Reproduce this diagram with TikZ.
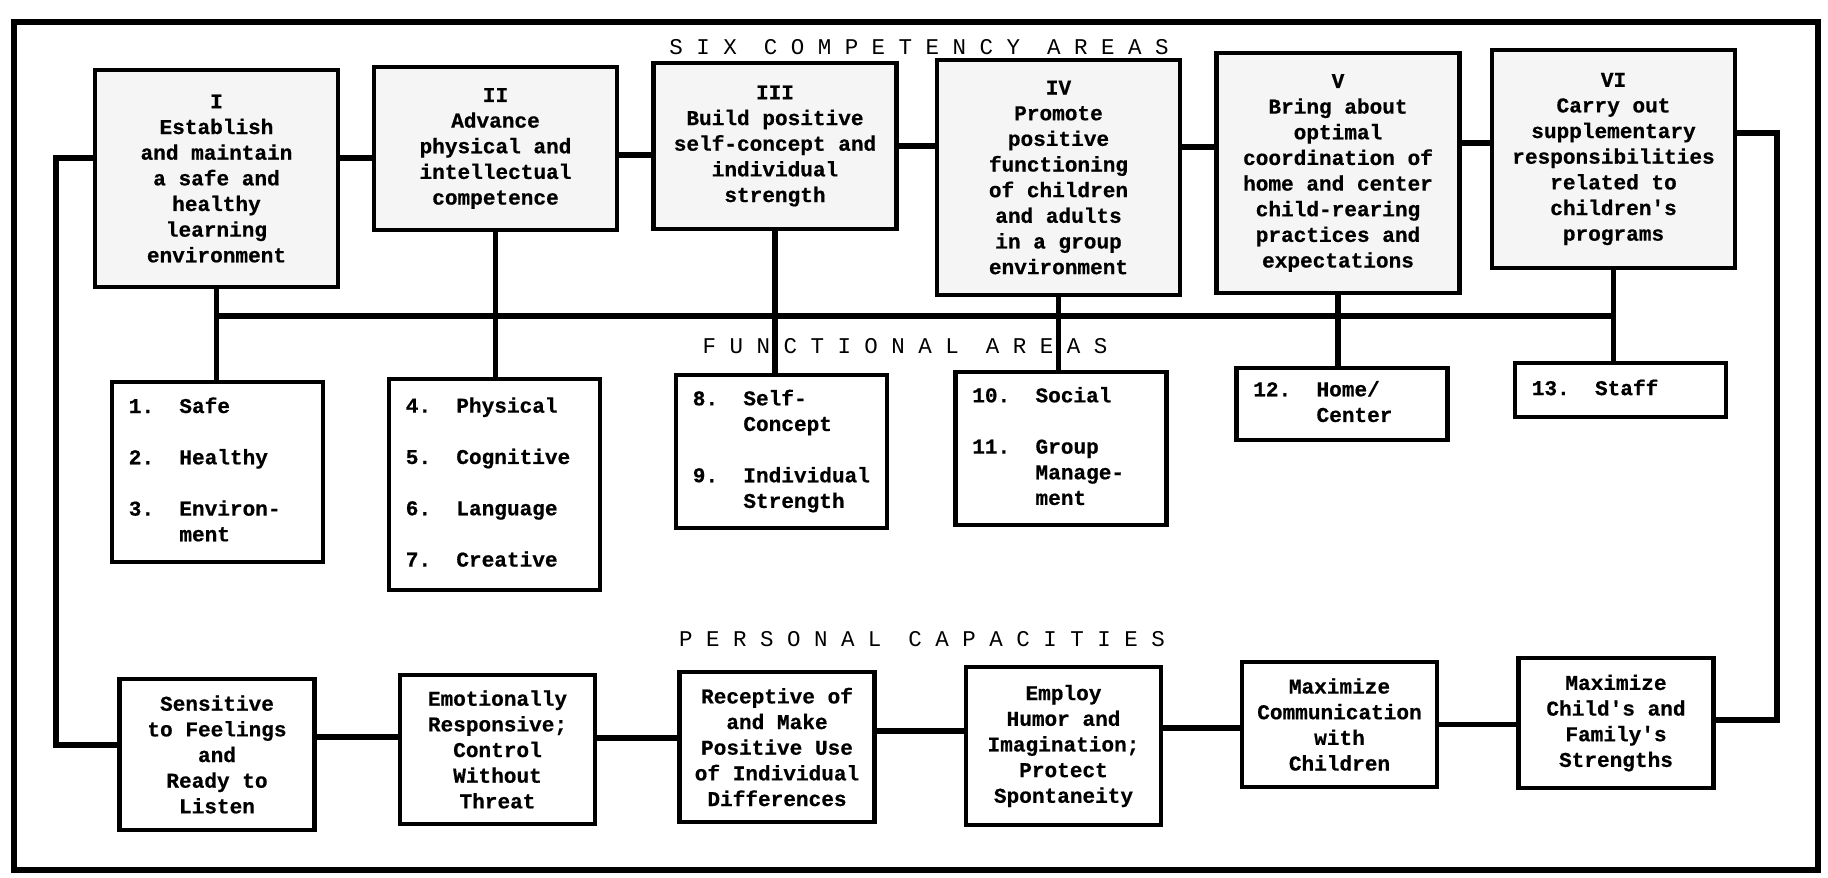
\documentclass[tikz,border=0pt]{standalone}
\usepackage{fontspec}
\setmonofont{Liberation Mono}
\newfontfamily\boxfont{Liberation Mono}[BoldFeatures={FakeBold=0.6}]
\usepackage{tikz}

\newcommand{\items}[1]{\begin{tabular}{@{}l@{\hspace{14.4pt}}l@{}}#1\end{tabular}}
\newcommand{\skipline}{\\[14.6pt]}

\begin{document}
\begin{tikzpicture}[
            x=0.02cm, y=-0.02cm,
            box/.style={draw, line width=2.4pt, inner sep=0pt,
                font=\boxfont\bfseries\fontsize{12}{14.6}\selectfont},
            area node/.style={box, align=center, fill=black!4, minimum width=4.86cm},
            func node/.style={box, align=left, text width=3.55cm, inner xsep=0.335cm},
            cap node/.style={box, align=center, minimum width=3.9cm},
            heading/.style={font=\ttfamily\fontsize{12.8}{15}\selectfont},
            link/.style={line width=3pt},
            ]
            \useasboundingbox (0,0) rectangle (1828,878);
            \draw[line width=3.4pt] (14,22) rectangle (1818,870);

            % competency areas
            \node[heading] (six) at (919,47) {S I X~~C O M P E T E N C Y~~A R E A S};
            \node[area node, minimum height=4.34cm] (I) at (216.5,178.5)
                {I\\Establish\\and maintain\\a safe and\\healthy\\learning\\environment};
            \node[area node, minimum height=3.26cm] (II) at (495.5,148.5)
                {II\\Advance\\physical and\\intellectual\\competence};
            \node[area node, minimum height=3.32cm] (III) at (775,146)
                {III\\Build positive\\self-concept and\\individual\\strength};
            \node[area node, minimum height=4.7cm] (IV) at (1058.5,177.5)
                {IV\\Promote\\positive\\functioning\\of children\\and adults\\in a group\\environment};
            \node[area node, minimum height=4.8cm] (V) at (1338,173)
                {V\\Bring about\\optimal\\coordination of\\home and center\\child-rearing\\practices and\\expectations};
            \node[area node, minimum height=4.36cm] (VI) at (1613.5,159)
                {VI\\Carry out\\supplementary\\responsibilities\\related to\\children's\\programs};

            % functional areas
            \node[heading] (func) at (905,346) {F U N C T I O N A L~~A R E A S};
            \node[func node, minimum height=3.6cm] (F1) at (217.5,472)
                {\items{1. & Safe\skipline 2. & Healthy\skipline 3. & Environ-\\ & ment}};
            \node[func node, minimum height=4.22cm] (F2) at (494.5,484.5)
                {\items{4. & Physical\skipline 5. & Cognitive\skipline 6. & Language\skipline 7. & Creative}};
            \node[func node, minimum height=3.06cm] (F3) at (781.5,451.5)
                {\items{8. & Self-\\ & Concept\skipline 9. & Individual\\ & Strength}};
            \node[func node, minimum height=3.06cm] (F4) at (1061,448.5)
                {\items{10. & Social\skipline 11. & Group\\ & Manage-\\ & ment}};
            \node[func node, minimum height=1.44cm] (F5) at (1342,404)
                {\items{12. & Home/\\ & Center}};
            \node[func node, minimum height=1.08cm] (F6) at (1620.5,390)
                {\items{13. & Staff}};

            % personal capacities
            \node[heading] (pers) at (922,639) {P E R S O N A L~~C A P A C I T I E S};
            \node[cap node, minimum height=3.02cm] (S1) at (217,754.5)
                {Sensitive\\to Feelings\\and\\Ready to\\Listen};
            \node[cap node, minimum height=2.98cm] (S2) at (497.5,749.5)
                {Emotionally\\Responsive;\\Control\\Without\\Threat};
            \node[cap node, minimum height=3cm] (S3) at (777,747)
                {Receptive of\\and Make\\Positive Use\\of Individual\\Differences};
            \node[cap node, minimum height=3.16cm] (S4) at (1063.5,746)
                {Employ\\Humor and\\Imagination;\\Protect\\Spontaneity};
            \node[cap node, minimum height=2.5cm] (S5) at (1339.5,724.5)
                {Maximize\\Communication\\with\\Children};
            \node[cap node, minimum height=2.6cm] (S6) at (1616,723)
                {Maximize\\Child's and\\Family's\\Strengths};

            % top row
            \draw[link] ([yshift=0.41cm]I.east) coordinate (a) -- (a -| II.west);
            \draw[link] ([yshift=-0.13cm]II.east) coordinate (a) -- (a -| III.west);
            \draw[link] (III.east) coordinate (a) -- (a -| IV.west);
            \draw[link] ([yshift=0.61cm]IV.east) coordinate (a) -- (a -| V.west);
            \draw[link] ([yshift=0.6cm]V.east) coordinate (a) -- (a -| VI.west);

            % down to the functional areas
            \coordinate (bus) at (0,316);
            \draw[link] (I.south |- bus) -- (VI.south |- bus);
            \draw[link] (I.south) -- (I.south |- F1.north);
            \draw[link] (II.south) -- (II.south |- F2.north);
            \draw[link] (III.south) -- (III.south |- F3.north);
            \draw[link] (IV.south) -- (IV.south |- F4.north);
            \draw[link] (V.south) -- (V.south |- F5.north);
            \draw[link] (VI.south) -- (VI.south |- F6.north);

            % bottom row and the loop round
            \draw[link] ([yshift=0.35cm]S1.east) coordinate (a) -- (a -| S2.west);
            \draw[link] ([yshift=0.23cm]S2.east) coordinate (a) -- (a -| S3.west);
            \draw[link] ([yshift=0.32cm]S3.east) coordinate (a) -- (a -| S4.west);
            \draw[link] ([yshift=0.36cm]S4.east) coordinate (a) -- (a -| S5.west);
            \draw[link] (S5.east) coordinate (a) -- (a -| S6.west);
            \draw[link] ([yshift=0.41cm]I.west) -- ++(-0.74cm,0) |- ([yshift=0.19cm]S1.west);
            \draw[link] ([yshift=0.52cm]VI.east) -- ++(0.8cm,0) |- ([yshift=0.06cm]S6.east);
        \end{tikzpicture}
\end{document}
